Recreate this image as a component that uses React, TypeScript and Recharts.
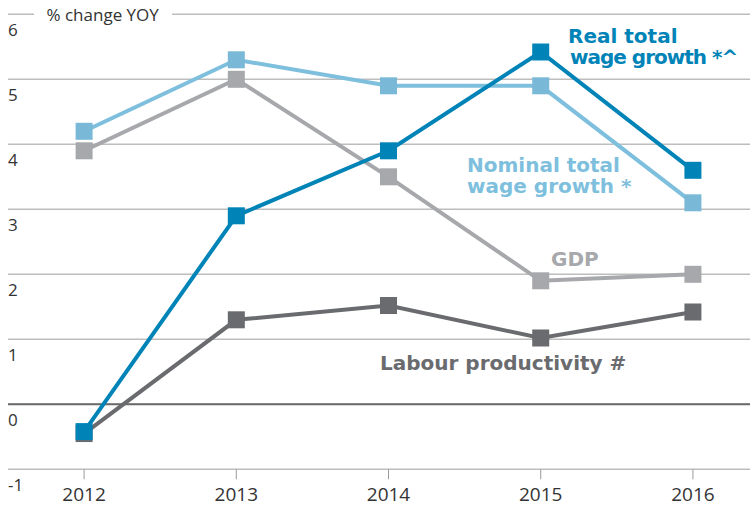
import React from 'react';
import { LineChart, Line, XAxis, YAxis, CartesianGrid, ReferenceLine } from 'recharts';

const years = [2012, 2013, 2014, 2015, 2016];
const realWage = [-0.42, 2.9, 3.9, 5.42, 3.6];
const nominalWage = [4.2, 5.3, 4.9, 4.9, 3.1];
const gdp = [3.9, 5.0, 3.5, 1.9, 2.0];
const labour = [-0.45, 1.3, 1.52, 1.02, 1.42];
const yTicks = [-1, 0, 1, 2, 3, 4, 5, 6];

const C_REAL = '#0083b7';
const C_NOM = '#7dbfdd';
const C_NOM_MARK = '#79b8d7';
const C_GDP = '#a7a8ab';
const C_LAB = '#6a6b6f';

const data = years.map((year, i) => ({
  year,
  real: realWage[i],
  nominal: nominalWage[i],
  gdp: gdp[i],
  labour: labour[i],
}));

const square = (color: string) => (props: any) => {
  const { cx, cy, index } = props;
  if (cx == null || cy == null) return <g key={index} />;
  return <rect key={index} x={cx - 8.5} y={cy - 8.5} width={17} height={17} fill={color} />;
};

const renderYTick = (props: any) => {
  const { y, payload, index } = props;
  return (
    <text key={index} x={8} y={y + 21.8} fontSize={17} fill="#333" fontFamily="Open Sans">
      {String(payload.value)}
    </text>
  );
};

const labelFont = { fontFamily: 'DejaVu Sans', fontWeight: 'bold' as const, fontSize: 20 };

export default function App() {
  return (
    <div style={{ position: 'absolute', left: 0, top: 0, width: 750, height: 505, background: '#fff' }}>
      <LineChart width={750} height={505} data={data} margin={{ top: 14.3, right: 0, bottom: 0, left: 0 }}>
        <CartesianGrid vertical={false} stroke="#bdbdbd" strokeWidth={1.5} />
        <XAxis
          dataKey="year"
          type="number"
          domain={[2011.5, 2016.375]}
          ticks={years}
          allowDataOverflow
          axisLine={false}
          tickLine={{ stroke: '#9a9a9a', strokeWidth: 1 }}
          tickSize={10}
          tickMargin={8}
          height={35.7}
          tick={{ fontSize: 19, fill: '#333', fontFamily: 'Open Sans' }}
        />
        <YAxis
          type="number"
          domain={[-1, 6]}
          ticks={yTicks}
          interval={0}
          width={8}
          axisLine={false}
          tickLine={false}
          tick={renderYTick}
        />
        <ReferenceLine y={0} stroke="#6a6a6a" strokeWidth={2} />
        <Line dataKey="labour" stroke={C_LAB} strokeWidth={4} dot={square(C_LAB)} activeDot={false} isAnimationActive={false} />
        <Line dataKey="gdp" stroke={C_GDP} strokeWidth={4} dot={square(C_GDP)} activeDot={false} isAnimationActive={false} />
        <Line dataKey="nominal" stroke={C_NOM} strokeWidth={4} dot={square(C_NOM_MARK)} activeDot={false} isAnimationActive={false} />
        <Line dataKey="real" stroke={C_REAL} strokeWidth={4} dot={square(C_REAL)} activeDot={false} isAnimationActive={false} />
      </LineChart>
      <svg width={750} height={505} style={{ position: 'absolute', left: 0, top: 0, pointerEvents: 'none' }}>
        <rect x={34} y={10} width={138} height={9} fill="#fff" />
        <text x={46.5} y={20.5} fontSize={17} fill="#333" fontFamily="Open Sans">% change YOY</text>
        <text x={568} y={42.7} fill={C_REAL} {...labelFont}>Real total</text>
        <text x={570} y={63.5} fill={C_REAL} letterSpacing={-1} {...labelFont}>wage growth *^</text>
        <text x={467} y={171.7} fill={C_NOM} {...labelFont}>Nominal total</text>
        <text x={467} y={192.7} fill={C_NOM} {...labelFont}>wage growth *</text>
        <text x={551} y={266} fill={C_GDP} {...labelFont}>GDP</text>
        <text x={380} y={370} fill={C_LAB} {...labelFont}>Labour productivity #</text>
      </svg>
    </div>
  );
}
